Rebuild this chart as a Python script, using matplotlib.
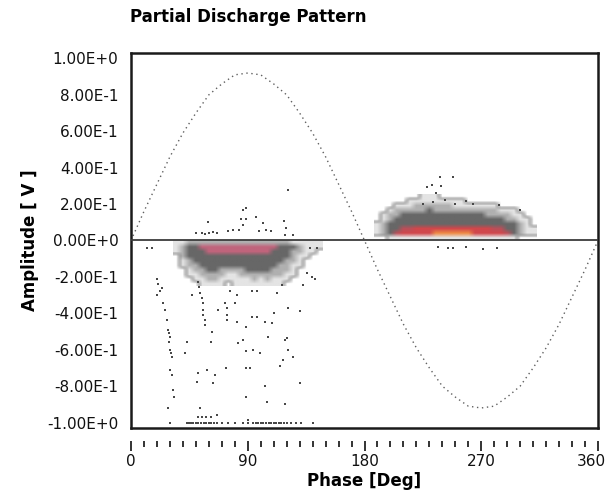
import numpy as np
import matplotlib.pyplot as plt
from matplotlib.colors import to_rgba
from matplotlib.ticker import MultipleLocator
from matplotlib.transforms import ScaledTranslation

# ---- reference voltage (sine), read every 10 deg ----
sine_phase = list(range(0, 361, 10))
sine_amp = [0.00, 0.16, 0.31, 0.46, 0.59, 0.70, 0.80, 0.86, 0.91, 0.92,
            0.91, 0.86, 0.80, 0.70, 0.59, 0.46, 0.31, 0.16, 0.00,
            -0.16, -0.31, -0.46, -0.59, -0.70, -0.80, -0.86, -0.91, -0.92,
            -0.91, -0.86, -0.80, -0.70, -0.59, -0.46, -0.31, -0.16, 0.00]

# ---- density levels of the two dense clusters (5 deg x 0.025 V cells) ----
# 0 empty, 1 sparse, 2 grey, 3 dark grey, 4 pink/red, 5 red, 6 orange
neg_phase = list(range(35, 146, 5))
neg_amp_top, neg_amp_bottom = 0.0, -0.25
neg_levels = [
    [1, 1, 2, 2, 2, 2, 2, 2, 2, 2, 2, 2, 2, 2, 2, 2, 2, 2, 1, 1, 1, 1, 1],
    [1, 2, 3, 3, 4, 4, 4, 4, 4, 4, 4, 4, 4, 4, 4, 4, 3, 3, 3, 2, 1, 1, 1],
    [1, 2, 3, 3, 3, 4, 4, 4, 4, 4, 4, 4, 4, 4, 4, 3, 3, 3, 2, 2, 1, 1, 0],
    [0, 2, 3, 3, 3, 3, 3, 3, 3, 3, 3, 3, 3, 3, 3, 3, 3, 3, 2, 1, 1, 0, 0],
    [0, 1, 2, 3, 3, 3, 3, 3, 3, 3, 3, 3, 3, 3, 3, 3, 3, 2, 2, 1, 0, 0, 0],
    [0, 1, 2, 2, 3, 3, 3, 3, 3, 3, 3, 3, 3, 3, 3, 3, 2, 2, 1, 1, 0, 0, 0],
    [0, 0, 1, 2, 2, 3, 3, 2, 2, 2, 2, 3, 3, 3, 3, 2, 2, 2, 1, 0, 0, 0, 0],
    [0, 0, 1, 1, 2, 2, 2, 2, 1, 1, 2, 2, 2, 2, 2, 2, 2, 1, 1, 0, 0, 0, 0],
    [0, 0, 0, 1, 1, 2, 2, 1, 1, 1, 1, 1, 2, 1, 2, 1, 1, 1, 0, 0, 0, 0, 0],
    [0, 0, 0, 0, 1, 1, 1, 1, 0, 1, 1, 1, 1, 1, 1, 1, 1, 0, 0, 0, 0, 0, 0],
]

pos_phase = list(range(190, 311, 5))
pos_amp_top, pos_amp_bottom = 0.25, 0.0
pos_levels = [
    [0, 0, 0, 0, 0, 0, 0, 1, 1, 1, 0, 0, 0, 0, 0, 0, 0, 0, 0, 0, 0, 0, 0, 0, 0],
    [0, 0, 0, 0, 0, 1, 1, 1, 1, 1, 1, 1, 1, 1, 0, 0, 0, 0, 0, 0, 0, 0, 0, 0, 0],
    [0, 0, 0, 1, 1, 1, 2, 2, 2, 2, 2, 2, 1, 1, 1, 1, 1, 1, 1, 0, 0, 0, 0, 0, 0],
    [0, 0, 1, 2, 2, 2, 2, 2, 3, 2, 2, 2, 2, 2, 2, 2, 2, 2, 2, 1, 1, 1, 0, 0, 0],
    [0, 1, 2, 2, 3, 3, 3, 3, 3, 3, 3, 3, 3, 3, 3, 3, 3, 2, 2, 2, 2, 1, 1, 0, 0],
    [0, 1, 2, 3, 3, 3, 3, 3, 3, 3, 3, 3, 3, 3, 3, 3, 3, 3, 3, 3, 2, 2, 1, 1, 0],
    [1, 2, 3, 3, 3, 3, 3, 3, 3, 3, 3, 3, 3, 3, 3, 3, 3, 3, 3, 3, 3, 3, 2, 1, 0],
    [1, 2, 3, 3, 4, 4, 5, 5, 5, 5, 5, 5, 5, 5, 5, 5, 5, 5, 4, 4, 3, 3, 2, 1, 1],
    [1, 2, 3, 4, 5, 5, 5, 5, 5, 6, 6, 6, 6, 6, 6, 5, 5, 5, 5, 5, 4, 3, 2, 1, 1],
    [0, 0, 1, 1, 1, 1, 1, 1, 1, 1, 1, 1, 1, 1, 1, 1, 1, 1, 1, 1, 1, 1, 0, 0, 0],
]

neg_colors = ['#ffffff', '#e4e4e4', '#b0b0b0', '#676767', '#c0647c', '#c8506a', '#d86a70']
pos_colors = ['#ffffff', '#e4e4e4', '#b0b0b0', '#676767', '#b8505a', '#d0474c', '#ee8a45']

# ---- isolated discharge points ----
out_phase = [
    # above zero, first half cycle
    50, 55, 57, 60, 63, 66, 59, 75, 79, 83, 85, 86, 86, 89, 89, 96.5, 101.5, 99, 104, 108,
    121, 118, 119.5, 118.6, 125,
    # positive cluster outliers
    238, 248, 231.7, 228.5, 239, 235, 225, 233, 242, 250, 258, 264, 300, 284,
    237, 244, 248, 258, 271, 282,
    # near zero, negative side
    12.6, 16, 138, 143,
    # streak near 20-33 deg
    19.8, 21, 23.6, 22.4, 19.8, 25, 26.2, 27.5, 28.8, 29.5, 30, 29.5, 30, 30.5, 31.3,
    30, 31.3, 32.5, 33, 28.7,
    # streak near 52-57 deg
    51.9, 52.7, 53.2, 54.4, 55.2, 55.7, 55.7, 57, 57,
    # scattered below the cluster
    46.7, 42.9, 41.6, 51.8, 51, 53.2, 62.2, 61.4, 58.8, 64.7, 63.4, 66, 67.3, 73.2,
    73.7, 73.7, 80.2, 81.4, 82.6, 86.5, 88.6, 88.6, 88.6, 91.7, 88.6, 90.4, 92.9,
    96.8, 94.2, 99.5, 92.9, 96.8, 103.4, 104.6, 105.8, 103.4, 110.3, 108.4, 112.2,
    114.8, 117.3, 118.7, 120, 121.3, 125, 118.7, 116.2, 121.3, 130.3, 130.3, 132.8,
    139.2, 141.8, 135.4, 76.3, 72.5, 73.7, 81.4,
    # clipped at -1
    30, 43, 45, 46, 48, 50, 52, 54, 56, 58, 60, 62, 64, 66, 70, 75, 80, 86, 90, 94,
    96, 98, 100, 102, 104, 106, 108, 110, 112, 114, 116, 118, 120, 123, 127, 131, 140,
    52, 55, 58, 62,
]
out_amp = [
    0.04, 0.04, 0.035, 0.04, 0.045, 0.04, 0.10, 0.05, 0.055, 0.055, 0.12, 0.17, 0.085, 0.18, 0.12,
    0.13, 0.095, 0.05, 0.058, 0.052,
    0.28, 0.107, 0.068, 0.03, 0.03,
    0.35, 0.35, 0.305, 0.295, 0.30, 0.26, 0.20, 0.21, 0.22, 0.20, 0.215, 0.20, 0.167, 0.195,
    -0.036, -0.04, -0.04, -0.036, -0.047, -0.04,
    -0.04, -0.04, -0.04, -0.04,
    -0.21, -0.24, -0.26, -0.28, -0.30, -0.345, -0.38, -0.437, -0.49, -0.51, -0.53, -0.556,
    -0.60, -0.62, -0.64, -0.71, -0.74, -0.82, -0.86, -0.92,
    -0.227, -0.254, -0.29, -0.318, -0.345, -0.382, -0.409, -0.437, -0.464,
    -0.30, -0.556, -0.62, -0.73, -0.776, -0.92, -0.50, -0.556, -0.71, -0.74, -0.785, -0.96,
    -0.38, -0.70, -0.41, -0.437, -0.345, -0.447, -0.565, -0.547, -0.476, -0.606, -0.70,
    -0.70, -0.86, -0.985, -0.42, -0.42, -0.60, -0.62, -0.28, -0.28, -0.80, -0.885, -0.53,
    -0.447, -0.40, -0.455, -0.29, -0.69, -0.656, -0.547, -0.537, -0.60, -0.64, -0.90,
    -0.245, -0.373, -0.39, -0.785, -0.245, -0.20, -0.21, -0.18, -0.28, -0.345, -0.37, -0.30,
    -1.0, -1.0, -1.0, -1.0, -1.0, -1.0, -1.0, -1.0, -1.0, -1.0, -1.0, -1.0, -1.0, -1.0,
    -1.0, -1.0, -1.0, -1.0, -1.0, -1.0, -1.0, -1.0, -1.0, -1.0, -1.0, -1.0, -1.0, -1.0,
    -1.0, -1.0, -1.0, -1.0, -1.0, -1.0, -1.0, -1.0, -1.0,
    -0.97, -0.97, -0.97, -0.97,
]

y_ticks = [1.0, 0.8, 0.6, 0.4, 0.2, 0.0, -0.2, -0.4, -0.6, -0.8, -1.0]
y_tick_labels = ['1.00E+0', '8.00E-1', '6.00E-1', '4.00E-1', '2.00E-1', '0.00E+0',
                 '-2.00E-1', '-4.00E-1', '-6.00E-1', '-8.00E-1', '-1.00E+0']
x_ticks = [0, 90, 180, 270, 360]


def level_image(levels, colors):
    rgba = np.zeros((len(levels), len(levels[0]), 4))
    for i, row in enumerate(levels):
        for j, v in enumerate(row):
            if v > 0:
                rgba[i, j] = to_rgba(colors[v])
    return rgba


fig = plt.figure(figsize=(6.11, 4.93), dpi=100)
ax = fig.add_axes([131 / 611, 65 / 493, 467 / 611, 375 / 493])

# clusters
dp = 5
ax.imshow(level_image(neg_levels, neg_colors),
          extent=[neg_phase[0] - dp / 2, neg_phase[-1] + dp / 2, neg_amp_bottom, neg_amp_top],
          aspect='auto', interpolation='bilinear', zorder=2)
ax.imshow(level_image(pos_levels, pos_colors),
          extent=[pos_phase[0] - dp / 2, pos_phase[-1] + dp / 2, pos_amp_bottom, pos_amp_top],
          aspect='auto', interpolation='bilinear', zorder=2)

ax.scatter(out_phase, out_amp, s=3, marker='s', color='#484848', linewidths=0, zorder=3)

ax.plot(sine_phase, sine_amp, color='#606060', lw=1.0, ls=(0, (1, 2.6)), zorder=2)
ax.axhline(0, color='#3c3c3c', lw=1.3, zorder=4)

ax.set_xlim(0, 360)
ax.set_ylim(-1.03, 1.03)

# frame
for s in ['top', 'right', 'left']:
    ax.spines[s].set_linewidth(1.8)
    ax.spines[s].set_color('#1a1a1a')
ax.spines['bottom'].set_visible(False)
ax.axhline(-1.03, color='#1a1a1a', lw=1.8, clip_on=False, zorder=5)

# detached tick row under the plot
ax.spines['bottom'].set_position(('outward', 9))
ax.set_xticks(x_ticks)
ax.xaxis.set_minor_locator(MultipleLocator(10))
ax.tick_params(axis='x', which='major', direction='out', length=7, width=1.2, pad=3,
               labelsize=11, colors='#111111')
ax.tick_params(axis='x', which='minor', direction='out', length=4, width=1.2, colors='#111111')
last = ax.get_xticklabels()[-1]
last.set_transform(last.get_transform() + ScaledTranslation(-5 / 72, 0, fig.dpi_scale_trans))

ax.set_yticks(y_ticks)
ax.set_yticklabels(y_tick_labels)
ax.tick_params(axis='y', length=0, pad=9, labelsize=11, colors='#111111')

ax.set_xlabel('Phase [Deg]', fontsize=12, fontweight='bold', labelpad=2)
ax.set_ylabel('Amplitude [ V ]', fontsize=12, fontweight='bold', labelpad=6)

fig.text(130 / 611, 1 - 17 / 493, 'Partial Discharge Pattern', fontsize=12,
         fontweight='bold', va='center', ha='left')

fig.savefig('out.png', dpi=100)
